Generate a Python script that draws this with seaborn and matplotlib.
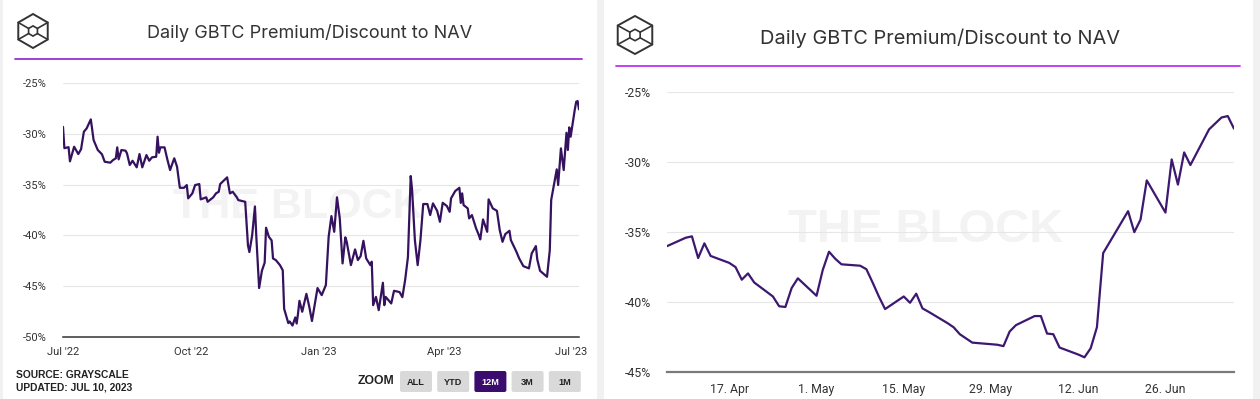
import numpy as np
import pandas as pd
import matplotlib
matplotlib.use("Agg")
import matplotlib.pyplot as plt
import seaborn as sns
from matplotlib.patches import Rectangle, Polygon, FancyBboxPatch

# --- Data (values in %) ---
left_dates = [
    "2022-07-01", "2022-07-02", "2022-07-05", "2022-07-06", "2022-07-09", "2022-07-12", "2022-07-14",
    "2022-07-16", "2022-07-18", "2022-07-21", "2022-07-23", "2022-07-26", "2022-07-29", "2022-07-31",
    "2022-08-04", "2022-08-06", "2022-08-08", "2022-08-09", "2022-08-10", "2022-08-12", "2022-08-15",
    "2022-08-16", "2022-08-18", "2022-08-20", "2022-08-23", "2022-08-25", "2022-08-27", "2022-08-30",
    "2022-09-01", "2022-09-03", "2022-09-06", "2022-09-07", "2022-09-08", "2022-09-09", "2022-09-12",
    "2022-09-14", "2022-09-16", "2022-09-17", "2022-09-19", "2022-09-21", "2022-09-22", "2022-09-23",
    "2022-09-26", "2022-09-28", "2022-09-29", "2022-10-02", "2022-10-04", "2022-10-07", "2022-10-08",
    "2022-10-12", "2022-10-13", "2022-10-17", "2022-10-19", "2022-10-21", "2022-10-22", "2022-10-25",
    "2022-10-27", "2022-10-29", "2022-10-31", "2022-11-03", "2022-11-04", "2022-11-09", "2022-11-11",
    "2022-11-12", "2022-11-14", "2022-11-16", "2022-11-17", "2022-11-19", "2022-11-21", "2022-11-23",
    "2022-11-24", "2022-11-26", "2022-11-28", "2022-11-29", "2022-12-01", "2022-12-04", "2022-12-06",
    "2022-12-07", "2022-12-10", "2022-12-11", "2022-12-13", "2022-12-15", "2022-12-16", "2022-12-17",
    "2022-12-18", "2022-12-20", "2022-12-23", "2022-12-25", "2022-12-27", "2022-12-31", "2023-01-03",
    "2023-01-06", "2023-01-08", "2023-01-10", "2023-01-12", "2023-01-14", "2023-01-16", "2023-01-18",
    "2023-01-20", "2023-01-21", "2023-01-24", "2023-01-27", "2023-01-29", "2023-01-31", "2023-02-02",
    "2023-02-04", "2023-02-07", "2023-02-08", "2023-02-09", "2023-02-11", "2023-02-13", "2023-02-16",
    "2023-02-17", "2023-02-18", "2023-02-22", "2023-02-24", "2023-02-28", "2023-03-02", "2023-03-04",
    "2023-03-06", "2023-03-08", "2023-03-09", "2023-03-11", "2023-03-13", "2023-03-15", "2023-03-17",
    "2023-03-20", "2023-03-22", "2023-03-24", "2023-03-27", "2023-03-29", "2023-03-31", "2023-04-03",
    "2023-04-05", "2023-04-06", "2023-04-09", "2023-04-12", "2023-04-13", "2023-04-14", "2023-04-15",
    "2023-04-18", "2023-04-19", "2023-04-21", "2023-04-24", "2023-04-26", "2023-04-27", "2023-04-29",
    "2023-05-02", "2023-05-03", "2023-05-06", "2023-05-09", "2023-05-11", "2023-05-13", "2023-05-15",
    "2023-05-18", "2023-05-19", "2023-05-23", "2023-05-25", "2023-05-28", "2023-06-01", "2023-06-03",
    "2023-06-06", "2023-06-07", "2023-06-09", "2023-06-14", "2023-06-16", "2023-06-17", "2023-06-21",
    "2023-06-22", "2023-06-24", "2023-06-26", "2023-06-28", "2023-06-29", "2023-06-30", "2023-07-01",
    "2023-07-04", "2023-07-05", "2023-07-06", "2023-07-07",
]
left_values = [
    -29.3, -31.4, -31.3, -32.7, -31.26, -31.98, -31.5,
    -29.78, -29.45, -28.56, -30.6, -31.58, -32.0, -32.74,
    -32.83, -32.57, -32.4, -31.32, -32.5, -31.58, -31.65,
    -31.91, -33.06, -32.64, -33.29, -31.98, -33.29, -32.08,
    -32.64, -32.3, -32.25, -30.27, -31.85, -31.32, -31.32,
    -32.5, -33.56, -33.16, -32.4, -33.23, -34.28, -35.31,
    -35.31, -35.04, -36.35, -35.86, -35.04, -34.94, -36.45,
    -36.25, -36.69, -36.25, -35.86, -35.7, -34.94, -34.55,
    -34.28, -35.86, -35.7, -36.25, -36.52, -36.69, -41.0,
    -41.65, -40.0, -37.15, -40.14, -45.2, -43.5, -42.7,
    -39.25, -40.14, -40.5, -42.28, -42.44, -42.94, -43.45,
    -47.25, -48.66, -48.5, -48.9, -48.1, -48.7, -47.7,
    -46.46, -47.54, -45.77, -47.0, -48.45, -45.2, -45.9,
    -44.91, -40.14, -38.1, -39.65, -36.25, -38.33, -42.77,
    -40.2, -40.64, -42.94, -41.39, -42.44, -42.05, -40.54,
    -42.28, -42.94, -42.6, -46.89, -46.07, -47.38, -44.68,
    -46.89, -46.07, -46.72, -45.47, -45.6, -46.1, -44.4,
    -42.15, -34.15, -35.53, -40.47, -42.94, -40.47, -36.91,
    -36.91, -38.0, -36.85, -37.58, -38.66, -36.79, -37.11,
    -37.68, -36.35, -35.63, -35.31, -36.8, -35.86, -37.01,
    -37.34, -38.33, -38.0, -39.31, -39.98, -40.4, -38.43,
    -39.65, -36.45, -37.34, -37.58, -39.48, -40.64, -39.88,
    -39.55, -40.47, -41.62, -42.28, -43.04, -43.26, -41.78,
    -41.06, -42.38, -43.5, -44.09, -41.46, -36.52, -33.49,
    -35.04, -31.42, -33.56, -29.88, -31.58, -29.35, -30.27,
    -27.57, -26.82, -26.75, -27.57,
]

right_dates = [
    "2023-04-07", "2023-04-10", "2023-04-11", "2023-04-12", "2023-04-13", "2023-04-14",
    "2023-04-17", "2023-04-18", "2023-04-19", "2023-04-20", "2023-04-21",
    "2023-04-24", "2023-04-25", "2023-04-26", "2023-04-27", "2023-04-28",
    "2023-05-01", "2023-05-02", "2023-05-03", "2023-05-04", "2023-05-05",
    "2023-05-08", "2023-05-09", "2023-05-10", "2023-05-11", "2023-05-12",
    "2023-05-15", "2023-05-16", "2023-05-17", "2023-05-18", "2023-05-19",
    "2023-05-22", "2023-05-23", "2023-05-24", "2023-05-25", "2023-05-26",
    "2023-05-30", "2023-05-31", "2023-06-01", "2023-06-02",
    "2023-06-05", "2023-06-06", "2023-06-07", "2023-06-08", "2023-06-09",
    "2023-06-12", "2023-06-13", "2023-06-14", "2023-06-15", "2023-06-16",
    "2023-06-20", "2023-06-21", "2023-06-22", "2023-06-23",
    "2023-06-26", "2023-06-27", "2023-06-28", "2023-06-29", "2023-06-30",
    "2023-07-03", "2023-07-05", "2023-07-06", "2023-07-07",
]
right_values = [
    -36.0, -35.4, -35.3, -36.85, -35.8, -36.7,
    -37.2, -37.5, -38.4, -37.95, -38.6,
    -39.6, -40.3, -40.35, -39.0, -38.3,
    -39.55, -37.7, -36.4, -36.9, -37.3,
    -37.4, -37.65, -38.6, -39.6, -40.5,
    -39.6, -40.05, -39.4, -40.45, -40.7,
    -41.5, -41.8, -42.3, -42.6, -42.9,
    -43.05, -43.15, -42.1, -41.65,
    -41.0, -41.0, -42.25, -42.3, -43.25,
    -43.75, -43.95, -43.3, -41.8, -36.5,
    -33.5, -35.0, -34.1, -31.3,
    -33.6, -29.8, -31.6, -29.3, -30.2,
    -27.65, -26.8, -26.7, -27.6,
]

left_tick_dates = ["2022-07-01", "2022-10-01", "2023-01-01", "2023-04-01", "2023-07-01"]
left_tick_labels = ["Jul '22", "Oct '22", "Jan '23", "Apr '23", "Jul '23"]
right_tick_dates = ["2023-04-17", "2023-05-01", "2023-05-15", "2023-05-29", "2023-06-12", "2023-06-26"]
right_tick_labels = ["17. Apr", "1. May", "15. May", "29. May", "12. Jun", "26. Jun"]
left_yticks = [-50, -45, -40, -35, -30, -25]
right_yticks = [-45, -40, -35, -30, -25]
zoom_buttons = ["ALL", "YTD", "12M", "3M", "1M"]
selected_button = "12M"

title = "Daily GBTC Premium/Discount to NAV"

left_df = pd.DataFrame({"date": pd.to_datetime(left_dates), "value": left_values})
right_df = pd.DataFrame({"date": pd.to_datetime(right_dates), "value": right_values})

# --- Style ---
sns.set_theme(style="white")
plt.rcParams["font.family"] = ["Roboto", "DejaVu Sans"]

W, H = 1260, 399
fig = plt.figure(figsize=(W / 100, H / 100), dpi=100, facecolor="#f1f1f1")


def fig_rect(x0, y0, x1, y1):
    # pixel box (y from top) -> figure fraction [left, bottom, width, height]
    return [x0 / W, 1 - y1 / H, (x1 - x0) / W, (y1 - y0) / H]


# background layer in pixel coordinates
bg = fig.add_axes([0, 0, 1, 1], zorder=-1)
bg.set_xlim(0, W)
bg.set_ylim(H, 0)
bg.axis("off")

bg.add_patch(Rectangle((3, 0), 594, H, facecolor="white", edgecolor="none"))
bg.add_patch(Rectangle((604, 0), 649, H, facecolor="white", edgecolor="none"))


def draw_logo(cx, cy, r, sx=1.0):
    ang = np.deg2rad([90, 150, 210, 270, 330, 30])
    outer = np.column_stack([cx + sx * r * np.cos(ang), cy - r * np.sin(ang)])
    inner = np.column_stack([cx + sx * 0.3 * r * np.cos(ang), cy - 0.3 * r * np.sin(ang)])
    bg.add_patch(Polygon(outer, closed=True, fill=False, edgecolor="#333333", linewidth=1.4))
    bg.add_patch(Polygon(inner, closed=True, fill=False, edgecolor="#333333", linewidth=1.2))
    for i in [1, 2, 4, 5]:
        bg.plot([outer[i, 0], inner[i, 0]], [outer[i, 1], inner[i, 1]], color="#333333", linewidth=1.2)


draw_logo(33, 31, 17)
draw_logo(635, 35, 19, sx=1.05)

bg.plot([15, 582], [59, 59], color="#9b2fd6", linewidth=1.3)
bg.plot([616, 1240], [66, 66], color="#c030f5", linewidth=1.3)

bg.text(310, 33, title, ha="center", va="center", fontsize=13, color="#333333", family=["Inter", "DejaVu Sans"])
bg.text(940, 38, title, ha="center", va="center", fontsize=14.4, color="#333333", family=["Inter", "DejaVu Sans"])

# footer of the left card
bg.text(16, 375, "SOURCE: GRAYSCALE", ha="left", va="center", fontsize=7.4, weight="bold",
        color="#222222", family=["Liberation Sans", "DejaVu Sans"])
bg.text(16, 387, "UPDATED: JUL 10, 2023", ha="left", va="center", fontsize=7.4, weight="bold",
        color="#222222", family=["Liberation Sans", "DejaVu Sans"])
bg.text(394, 381.5, "ZOOM", ha="right", va="center", fontsize=8.8, weight="bold",
        color="#222222", family=["Liberation Sans", "DejaVu Sans"])
for i, lab in enumerate(zoom_buttons):
    x0 = 400 + i * 37.2
    sel = lab == selected_button
    bg.add_patch(FancyBboxPatch((x0, 371), 32, 21, boxstyle="round,pad=0,rounding_size=2",
                                facecolor="#3b0b6d" if sel else "#d9d9d9", edgecolor="none"))
    bg.text(x0 + 16, 382.5, lab, ha="center", va="center", fontsize=6.6, weight="bold",
            color="white" if sel else "#222222", family=["Liberation Sans", "DejaVu Sans"])


def style_axis(ax, df, yticks, tick_dates, tick_labels, ysize, xpad, spine_color, spine_w):
    ax.set_facecolor("none")
    ax.set_xlim(df["date"].min(), df["date"].max())
    ax.set_ylim(min(yticks), max(yticks))
    ax.set_yticks(yticks)
    ax.set_yticklabels([f"{v}%" for v in yticks])
    ax.set_xticks(pd.to_datetime(tick_dates))
    ax.set_xticklabels(tick_labels)
    ax.set_xlabel("")
    ax.set_ylabel("")
    ax.grid(axis="y", color="#e6e6e6", linewidth=0.8)
    ax.grid(axis="x", visible=False)
    ax.set_axisbelow(True)
    for s in ["top", "right", "left"]:
        ax.spines[s].set_visible(False)
    ax.spines["bottom"].set_color(spine_color)
    ax.spines["bottom"].set_linewidth(spine_w)
    ax.spines["bottom"].set_zorder(3)
    ax.tick_params(axis="both", length=0, labelsize=ysize, labelcolor="#333333")
    ax.tick_params(axis="y", pad=11.5)
    ax.tick_params(axis="x", pad=xpad)


# --- Left chart (12M) ---
ax1 = fig.add_axes(fig_rect(63, 83.3, 579, 336.7))
ax1.text(298 / W, 1 - 207 / H, "THE BLOCK", transform=fig.transFigure, ha="center", va="center",
         fontsize=31, weight="bold", color="#f3f3f3", zorder=0.5, family=["Liberation Sans", "DejaVu Sans"])
sns.lineplot(data=left_df, x="date", y="value", ax=ax1, color="#35125f", linewidth=1.6, zorder=2)
style_axis(ax1, left_df, left_yticks, left_tick_dates, left_tick_labels, 8, 7.4, "#333333", 1.1)

# --- Right chart (3M) ---
ax2 = fig.add_axes(fig_rect(667, 92.3, 1234, 372))
ax2.text(926 / W, 1 - 230 / H, "THE BLOCK", transform=fig.transFigure, ha="center", va="center",
         fontsize=34, weight="bold", color="#f3f3f3", zorder=0.5, family=["Liberation Sans", "DejaVu Sans"])
sns.lineplot(data=right_df, x="date", y="value", ax=ax2, color="#3d1870", linewidth=1.6, zorder=2)
style_axis(ax2, right_df, right_yticks, right_tick_dates, right_tick_labels, 8.8, 8, "#7a7a7a", 1.6)

fig.savefig("out.png", dpi=100, facecolor=fig.get_facecolor())
